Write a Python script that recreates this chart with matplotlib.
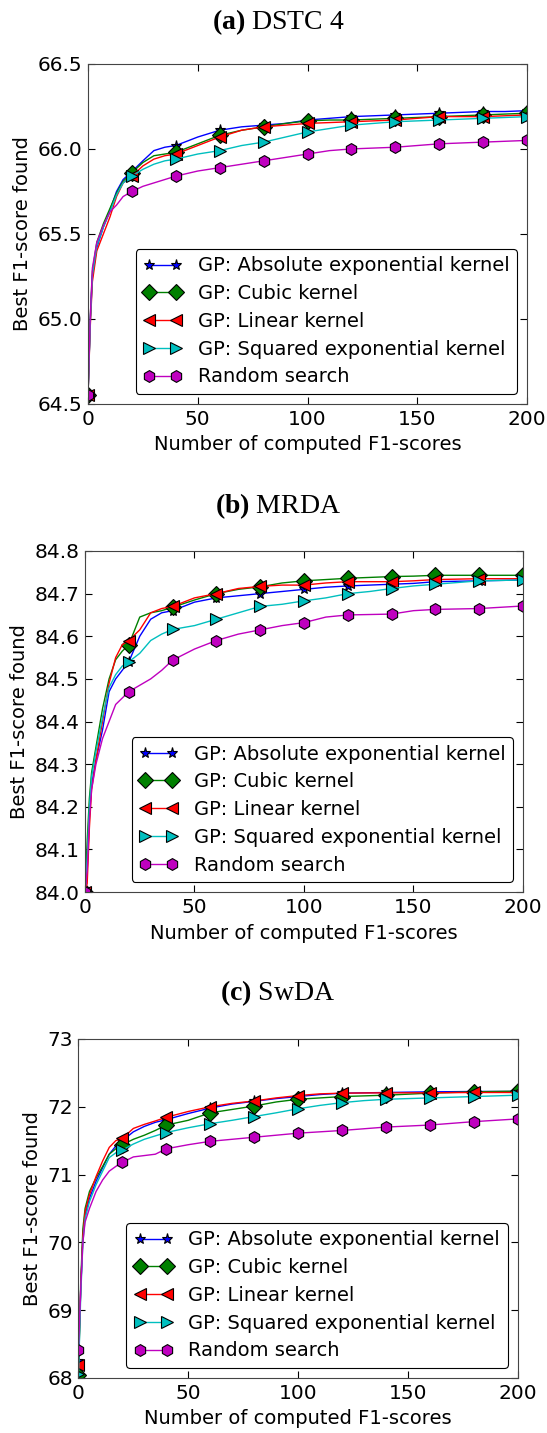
import matplotlib
matplotlib.use('Agg')
import matplotlib.pyplot as plt
from matplotlib.ticker import FormatStrFormatter, MultipleLocator

plt.rcParams['font.family'] = 'DejaVu Sans'
plt.rcParams['mathtext.fontset'] = 'custom'
plt.rcParams['mathtext.rm'] = 'Liberation Serif'
plt.rcParams['mathtext.bf'] = 'Liberation Serif:bold'

labels = ['GP: Absolute exponential kernel', 'GP: Cubic kernel', 'GP: Linear kernel',
          'GP: Squared exponential kernel', 'Random search']
colors = ['b', 'g', 'r', 'c', 'm']
markers = ['*', 'D', '<', '>', 'h']
msizes = [8, 8, 9, 9, 8.5]

# (a) DSTC 4
xa = [0, 1, 2, 4, 7, 10, 13, 16, 20, 25, 30, 35, 40, 50, 60, 70, 80, 90, 100,
      110, 120, 130, 140, 150, 160, 170, 180, 190, 200]
a_abs = [64.55, 64.98, 65.25, 65.42, 65.54, 65.64, 65.75, 65.82, 65.867, 65.93, 65.99, 66.01, 66.02,
         66.07, 66.11, 66.13, 66.14, 66.15, 66.17, 66.18, 66.19, 66.195, 66.20, 66.205, 66.21,
         66.215, 66.22, 66.22, 66.225]
a_cub = [64.55, 65.0, 65.28, 65.45, 65.56, 65.65, 65.74, 65.81, 65.86, 65.92, 65.96, 65.97, 65.98,
         66.03, 66.08, 66.11, 66.13, 66.15, 66.165, 66.17, 66.17, 66.175, 66.18, 66.185, 66.19,
         66.195, 66.20, 66.205, 66.21]
a_lin = [64.55, 64.95, 65.22, 65.40, 65.50, 65.60, 65.72, 65.80, 65.84, 65.90, 65.94, 65.96, 65.97,
         66.02, 66.07, 66.11, 66.13, 66.14, 66.15, 66.155, 66.16, 66.165, 66.17, 66.18, 66.19,
         66.19, 66.19, 66.195, 66.20]
a_sq = [64.55, 64.97, 65.26, 65.43, 65.54, 65.63, 65.73, 65.80, 65.84, 65.88, 65.91, 65.93, 65.94,
        65.97, 65.99, 66.02, 66.04, 66.07, 66.10, 66.12, 66.14, 66.15, 66.16, 66.165, 66.17,
        66.175, 66.18, 66.185, 66.19]
a_rand = [64.55, 65.0, 65.3, 65.45, 65.55, 65.63, 65.67, 65.72, 65.75, 65.78, 65.80, 65.82, 65.84,
          65.87, 65.89, 65.91, 65.93, 65.95, 65.97, 65.99, 66.00, 66.005, 66.01, 66.02, 66.03,
          66.035, 66.04, 66.045, 66.05]

# (b) MRDA
xb = [0, 1, 2, 3, 5, 8, 11, 14, 17, 20, 25, 30, 35, 40, 50, 60, 70, 80, 90, 100,
      110, 120, 130, 140, 150, 160, 170, 180, 190, 200]
b_abs = [84.0, 84.05, 84.18, 84.25, 84.31, 84.38, 84.47, 84.50, 84.52, 84.54, 84.60, 84.64, 84.655,
         84.66, 84.68, 84.69, 84.695, 84.70, 84.705, 84.71, 84.715, 84.718, 84.72, 84.722, 84.724,
         84.728, 84.729, 84.73, 84.731, 84.732]
b_cub = [84.0, 84.12, 84.22, 84.28, 84.34, 84.43, 84.50, 84.545, 84.565, 84.58, 84.645, 84.655, 84.66,
         84.668, 84.685, 84.70, 84.71, 84.716, 84.725, 84.73, 84.733, 84.736, 84.738, 84.74, 84.741,
         84.743, 84.743, 84.743, 84.743, 84.743]
b_lin = [84.0, 84.02, 84.15, 84.24, 84.31, 84.40, 84.49, 84.55, 84.58, 84.59, 84.615, 84.655, 84.665,
         84.67, 84.69, 84.70, 84.712, 84.717, 84.72, 84.72, 84.725, 84.728, 84.728, 84.728, 84.73,
         84.733, 84.734, 84.735, 84.735, 84.735]
b_sq = [84.0, 84.08, 84.2, 84.27, 84.33, 84.41, 84.48, 84.51, 84.53, 84.54, 84.56, 84.59, 84.605,
        84.616, 84.625, 84.64, 84.655, 84.67, 84.675, 84.683, 84.69, 84.70, 84.705, 84.712, 84.718,
        84.722, 84.726, 84.73, 84.731, 84.732]
b_rand = [84.0, 84.05, 84.17, 84.24, 84.30, 84.36, 84.40, 84.44, 84.455, 84.47, 84.485, 84.50, 84.52,
          84.544, 84.57, 84.59, 84.605, 84.615, 84.625, 84.632, 84.645, 84.65, 84.651, 84.652, 84.66,
          84.663, 84.664, 84.665, 84.668, 84.671]

# (c) SwDA
xc = xb
c_abs = [68.25, 69.3, 70.1, 70.4, 70.65, 70.9, 71.1, 71.3, 71.42, 71.50, 71.63, 71.71, 71.77, 71.81,
         71.90, 71.98, 72.04, 72.08, 72.12, 72.15, 72.18, 72.20, 72.205, 72.21, 72.215, 72.22,
         72.222, 72.225, 72.225, 72.225]
c_cub = [68.04, 69.4, 70.2, 70.5, 70.75, 70.95, 71.12, 71.3, 71.38, 71.44, 71.52, 71.58, 71.65, 71.73,
         71.80, 71.91, 71.96, 72.01, 72.07, 72.11, 72.13, 72.15, 72.16, 72.17, 72.185, 72.20,
         72.21, 72.22, 72.225, 72.23]
c_lin = [68.19, 69.3, 70.1, 70.45, 70.7, 70.97, 71.2, 71.4, 71.5, 71.535, 71.68, 71.74, 71.79, 71.845,
         71.93, 72.0, 72.05, 72.085, 72.13, 72.165, 72.19, 72.20, 72.203, 72.205, 72.205, 72.205,
         72.208, 72.21, 72.21, 72.21]
c_sq = [68.06, 69.2, 70.0, 70.35, 70.6, 70.85, 71.05, 71.25, 71.32, 71.36, 71.45, 71.52, 71.57, 71.62,
        71.69, 71.75, 71.80, 71.855, 71.91, 71.97, 72.02, 72.06, 72.09, 72.11, 72.12, 72.13,
        72.14, 72.15, 72.16, 72.17]
c_rand = [68.41, 69.3, 70.0, 70.3, 70.5, 70.75, 70.92, 71.05, 71.12, 71.18, 71.26, 71.28, 71.30, 71.38,
          71.44, 71.49, 71.52, 71.55, 71.58, 71.61, 71.63, 71.65, 71.675, 71.70, 71.715, 71.73,
          71.755, 71.78, 71.80, 71.82]

panels = [
    (r'$\mathbf{(a)}$ DSTC 4', xa, [a_abs, a_cub, a_lin, a_sq, a_rand], (64.5, 66.5), 0.5, '%.1f',
     [0.1609, 0.7181, 0.8026, 0.2373], 0.9846),
    (r'$\mathbf{(b)}$ MRDA', xb, [b_abs, b_cub, b_lin, b_sq, b_rand], (84.0, 84.8), 0.1, '%.1f',
     [0.1554, 0.3775, 0.8007, 0.2380], 0.6469),
    (r'$\mathbf{(c)}$ SwDA', xc, [c_abs, c_cub, c_lin, c_sq, c_rand], (68, 73), 1, '%d',
     [0.1435, 0.0384, 0.8026, 0.2366], 0.3070),
]

fig = plt.figure(figsize=(5.47, 14.33), dpi=100)

for title, xs, series, ylim, step, fmt, pos, ty in panels:
    ax = fig.add_axes(pos)
    marks = [i for i, x in enumerate(xs) if x % 20 == 0]
    for ys, col, mk, ms, lab in zip(series, colors, markers, msizes, labels):
        ax.plot(xs, ys, color=col, lw=1.0, marker=mk, markersize=ms,
                markeredgecolor='k', markeredgewidth=0.8, markevery=marks, label=lab)
    ax.set_xlim(0, 200)
    ax.set_ylim(*ylim)
    ax.xaxis.set_major_locator(MultipleLocator(50))
    ax.yaxis.set_major_locator(MultipleLocator(step))
    ax.yaxis.set_major_formatter(FormatStrFormatter(fmt))
    ax.tick_params(direction='in', top=True, right=True, length=5, labelsize=14.5, pad=4)
    for sp in ax.spines.values():
        sp.set_color('#444444')
    ax.set_xlabel('Number of computed F1-scores', fontsize=14, labelpad=5)
    ax.set_ylabel('Best F1-score found', fontsize=14)
    leg = ax.legend(loc='lower right', fontsize=14, numpoints=2, fancybox=True,
                    framealpha=1, edgecolor='k', borderaxespad=0.5, handlelength=2.0,
                    labelspacing=0.45, handletextpad=0.8, borderpad=0.4)
    leg.get_frame().set_linewidth(0.8)
    fig.text(0.508, ty, title, ha='center', va='center', fontsize=20,
             family='Liberation Serif')

fig.savefig('out.png', dpi=100)
